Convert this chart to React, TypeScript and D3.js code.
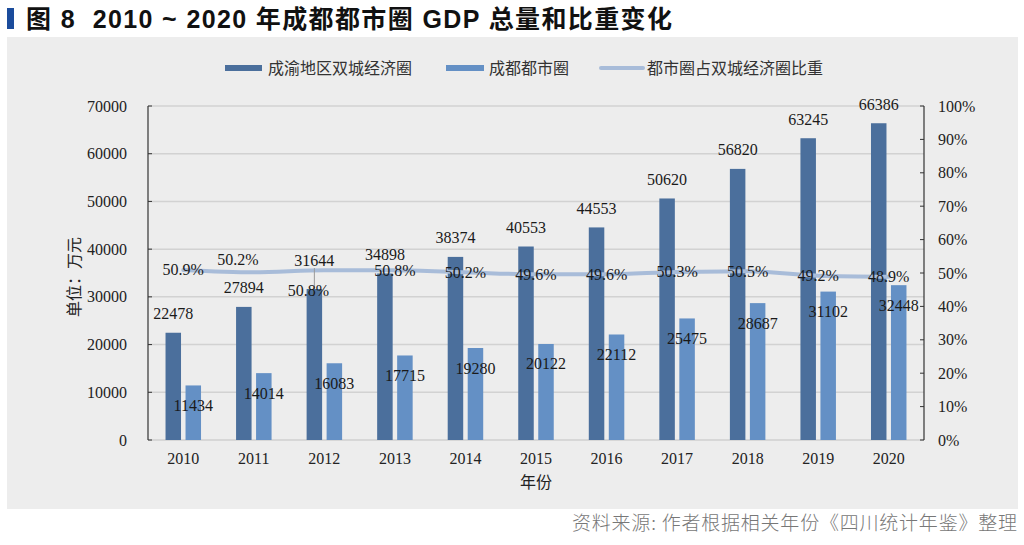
import React from "react";
import * as d3 from "d3";

const years = ["2010","2011","2012","2013","2014","2015","2016","2017","2018","2019","2020"];
const regionGDP = [22478, 27894, 31644, 34898, 38374, 40553, 44553, 50620, 56820, 63245, 66386];
const metroGDP = [11434, 14014, 16083, 17715, 19280, 20122, 22112, 25475, 28687, 31102, 32448];
const shareVals = [50.9, 50.2, 50.8, 50.8, 50.2, 49.6, 49.6, 50.3, 50.5, 49.2, 48.9];
const leftTicks = [0, 10000, 20000, 30000, 40000, 50000, 60000, 70000];
const rightTicks = [0, 10, 20, 30, 40, 50, 60, 70, 80, 90, 100];
const seriesNames = ["成渝地区双城经济圈", "成都都市圈", "都市圈占双城经济圈比重"];

// label placement tweaks (layout only)
const pctNudge: Record<string, [number, number]> = { "2011": [-16, -13], "2012": [-16, 20] };
const darkNudge: Record<string, number> = { "2012": -10 };

const DARK = "#4b6f9c";
const LIGHT = "#6490c5";
const LINE = "#a8bcd9";
const SERIF = "'Liberation Serif', 'Times New Roman', 'Noto Sans CJK SC', serif";
const CJK = "'Noto Sans CJK SC', sans-serif";
const TITLE_FONT = "'Liberation Sans', Arial, 'Noto Sans CJK SC', sans-serif";

export default function App() {
  const W = 1024, H = 545;
  const left = 148, right = 924, top = 106, bottom = 440;
  const x = d3.scaleBand<string>().domain(years).range([left, right]).padding(0);
  const y = d3.scaleLinear().domain([0, 70000]).range([bottom, top]);
  const y2 = d3.scaleLinear().domain([0, 100]).range([bottom, top]);
  const bw = 15.5;
  const cx = (yr: string) => (x(yr) as number) + x.bandwidth() / 2;
  const line = d3.line<number>()
    .x((_, i) => cx(years[i]))
    .y((d) => y2(d))
    .curve(d3.curveMonotoneX);

  return (
    <svg width={W} height={H} style={{ position: "absolute", left: 0, top: 0 }}>
      <rect x={0} y={0} width={W} height={H} fill="#ffffff" />
      {/* title */}
      <rect x={7} y={8} width={7} height={21} fill="#1b4c9c" />
      <text x={26} y={27.5} fontFamily={TITLE_FONT} fontSize={25} fontWeight={700} fill="#111"
        textLength={646} lengthAdjust="spacing" style={{ whiteSpace: "pre" }}>
        {"图 8  2010 ~ 2020 年成都都市圈 GDP 总量和比重变化"}
      </text>
      {/* chart background */}
      <rect x={7} y={37} width={1011} height={472} fill="#ededed" />

      {/* legend */}
      <g fontFamily={SERIF} fontSize={16} fill="#333">
        <rect x={225} y={65} width={37} height={6} fill={DARK} />
        <text x={268} y={74}>{seriesNames[0]}</text>
        <rect x={446} y={65} width={38} height={6} fill={LIGHT} />
        <text x={489} y={74}>{seriesNames[1]}</text>
        <line x1={601} x2={643} y1={68} y2={68} stroke={LINE} strokeWidth={4} strokeLinecap="round" />
        <text x={647} y={74}>{seriesNames[2]}</text>
      </g>

      {/* grid */}
      {leftTicks.filter((t) => t > 0).map((t) => (
        <line key={t} x1={left} x2={right} y1={y(t)} y2={y(t)} stroke="#d2d2d2" strokeWidth={1.5} />
      ))}
      <line x1={left} x2={right} y1={bottom} y2={bottom} stroke="#cfcfcf" strokeWidth={1.5} />

      {/* axes */}
      <line x1={left} x2={left} y1={top} y2={bottom} stroke="#333" strokeWidth={1.2} />
      <line x1={right} x2={right} y1={top} y2={bottom} stroke="#333" strokeWidth={1.2} />
      <g fontFamily={SERIF} fontSize={16} fill="#222">
        {leftTicks.map((t) => (
          <g key={t}>
            <line x1={left} x2={left + 4} y1={y(t)} y2={y(t)} stroke="#333" />
            <text x={127} y={y(t) + 5.5} textAnchor="end">{t}</text>
          </g>
        ))}
        {rightTicks.map((t) => (
          <g key={t}>
            <line x1={right - 4} x2={right} y1={y2(t)} y2={y2(t)} stroke="#333" />
            <text x={938} y={y2(t) + 5.5}>{t}%</text>
          </g>
        ))}
        {years.map((yr) => (
          <text key={yr} x={cx(yr)} y={464} textAnchor="middle">{yr}</text>
        ))}
        <text x={536} y={488} textAnchor="middle">年份</text>
        <text transform="translate(80,277) rotate(-90)" textAnchor="middle">单位：万元</text>
      </g>

      {/* bars */}
      {years.map((yr, i) => (
        <g key={yr}>
          <rect x={cx(yr) - 2.25 - bw} y={y(regionGDP[i])} width={bw} height={bottom - y(regionGDP[i])} fill={DARK} />
          <rect x={cx(yr) + 2.25} y={y(metroGDP[i])} width={bw} height={bottom - y(metroGDP[i])} fill={LIGHT} />
        </g>
      ))}

      {/* share line */}
      <path d={line(shareVals) || ""} fill="none" stroke={LINE} strokeWidth={4} strokeLinecap="round" />

      {/* labels */}
      <g fontFamily={SERIF} fontSize={16} fill="#1a1a1a" textAnchor="middle">
        {years.map((yr, i) => {
          const dc = cx(yr) - 2.25 - bw / 2;
          const lc = cx(yr) + 2.25 + bw / 2;
          const top1 = y(regionGDP[i]);
          const dn = darkNudge[yr] || 0;
          const labC = top1 - 19 + dn;
          const pn = pctNudge[yr] || [0, 0];
          return (
            <g key={yr}>
              {dn !== 0 && (
                <line x1={dc} x2={dc} y1={labC + 8} y2={top1} stroke="#999" strokeWidth={1} />
              )}
              <text x={dc} y={labC + 5.5}>{regionGDP[i]}</text>
              <text x={lc} y={y(metroGDP[i]) + 25.5}>{metroGDP[i]}</text>
              <text x={cx(yr) + pn[0]} y={y2(shareVals[i]) + 5.5 + pn[1]}>{shareVals[i].toFixed(1)}%</text>
            </g>
          );
        })}
      </g>

      {/* source */}
      <text x={572} y={530} fontFamily={CJK} fontSize={19} fontWeight={300} fill="#777"
        textLength={445} lengthAdjust="spacing">
        资料来源: 作者根据相关年份《四川统计年鉴》整理
      </text>
    </svg>
  );
}
